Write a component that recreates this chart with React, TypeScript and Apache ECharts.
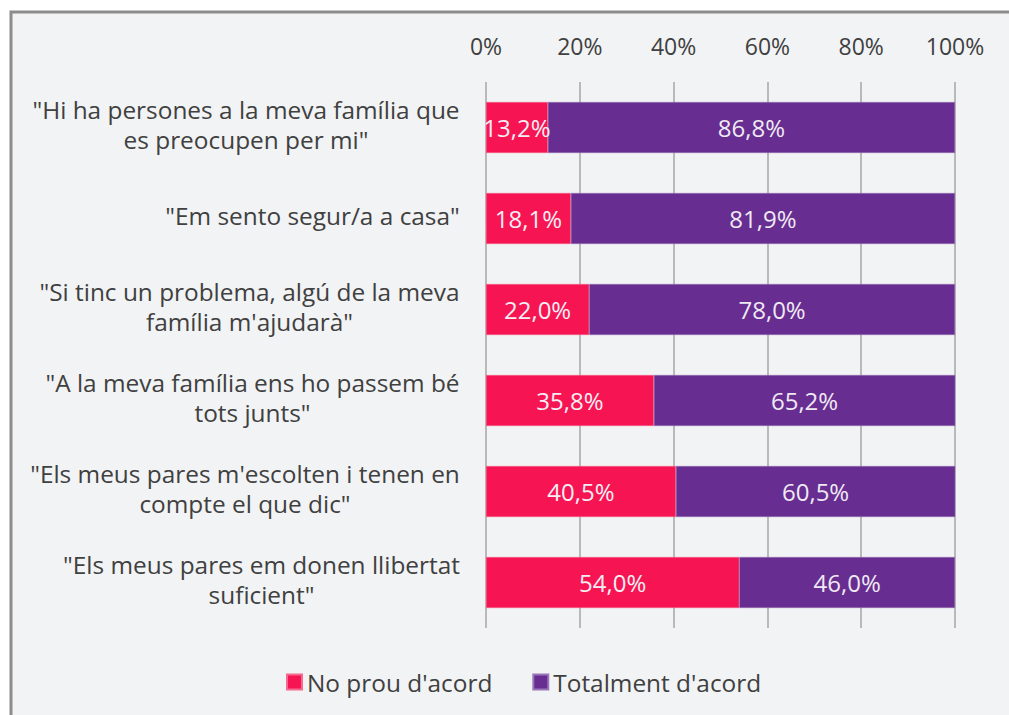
import React, { useEffect, useRef } from "react";
import * as echarts from "echarts";

const categories: string[][] = [
  ['"Hi ha persones a la meva família que', 'es preocupen per mi"'],
  ['"Em sento segur/a a casa"'],
  ['"Si tinc un problema, algú de la meva', "família m'ajudarà\""],
  ['"A la meva família ens ho passem bé', 'tots junts"'],
  ["\"Els meus pares m'escolten i tenen en", 'compte el que dic"'],
  ['"Els meus pares em donen llibertat', 'suficient"'],
];
const noProu: number[] = [13.2, 18.1, 22.0, 35.8, 40.5, 54.0];
const totalment: number[] = [86.8, 81.9, 78.0, 65.2, 60.5, 46.0];
const seriesNames = ["No prou d'acord", "Totalment d'acord"];
const xTicks = [0, 20, 40, 60, 80, 100];

const FONT = "'Open Sans', Lato, sans-serif";
const LABEL_SIZE = 24.4;

function measure(text: string, size: number): number {
  const c = document.createElement("canvas").getContext("2d");
  if (!c) return text.length * size * 0.5;
  c.font = `${size}px 'Open Sans', Lato, sans-serif`;
  return Math.ceil(c.measureText(text).width);
}

export default function App() {
  const ref = useRef<HTMLDivElement>(null);
  useEffect(() => {
    if (!ref.current) return;
    const chart = echarts.init(ref.current, undefined, { renderer: "svg" });
    const rich: Record<string, any> = {};
    categories.forEach((lines, i) => {
      const w = Math.max(...lines.map((l) => measure(l, LABEL_SIZE)));
      rich["r" + i] = {
        width: w,
        align: "center",
        fontSize: LABEL_SIZE,
        fontFamily: FONT,
        color: "#404040",
        lineHeight: 30,
      };
    });
    const fmt = (v: number) => v.toFixed(1).replace(".", ",") + "%";
    chart.setOption({
      animation: false,
      backgroundColor: "#ffffff",
      graphic: [
        {
          type: "rect",
          shape: { x: 11, y: 12, width: 1100, height: 800 },
          style: { fill: "#f2f3f5", stroke: "#8c8c8c", lineWidth: 3 },
          z: -10,
          silent: true,
        },
      ],
      grid: { left: 486, right: 54, top: 82, bottom: 87 },
      legend: {
        data: seriesNames,
        left: 281,
        top: 665,
        itemWidth: 15,
        itemHeight: 15,
        itemGap: 40,
        icon: "rect",
        textStyle: { fontSize: 24.4, fontFamily: FONT, color: "#404040" },
      },
      xAxis: {
        type: "value",
        position: "top",
        min: 0,
        max: 100,
        interval: 20,
        axisLine: { show: false },
        axisTick: { show: false },
        splitLine: { show: true, lineStyle: { color: "#a6a6a6", width: 1.5 } },
        axisLabel: {
          formatter: (v: number) => (xTicks.includes(v) ? v + "%" : ""),
          fontSize: 23,
          fontFamily: FONT,
          color: "#404040",
          margin: 25,
        },
      },
      yAxis: {
        type: "category",
        inverse: true,
        data: categories.map((c) => c.join("\n")),
        axisLine: { show: false },
        axisTick: { show: false },
        axisLabel: {
          align: "right",
          margin: 26,
          padding: [0, 0, 6, 0],
          formatter: (_: string, i: number) =>
            categories[i].map((l) => `{r${i}|${l}}`).join("\n"),
          rich,
        },
      },
      series: [
        {
          name: seriesNames[0],
          type: "bar",
          stack: "t",
          data: noProu,
          barCategoryGap: "44%",
          itemStyle: { color: "#f71453", borderColor: "#f56b8f", borderWidth: 0.5 },
          label: {
            show: true,
            position: "inside",
            formatter: (p: any) => fmt(p.value),
            color: "#f4eef4",
            fontSize: 24,
            fontFamily: FONT,
          },
        },
        {
          name: seriesNames[1],
          type: "bar",
          stack: "t",
          data: totalment,
          itemStyle: { color: "#672d91", borderColor: "#9a76b8", borderWidth: 0.5 },
          label: {
            show: true,
            position: "inside",
            formatter: (p: any) => fmt(p.value),
            color: "#efe9f3",
            fontSize: 24,
            fontFamily: FONT,
          },
        },
      ],
    });
    return () => chart.dispose();
  }, []);
  return (
    <div
      ref={ref}
      style={{ position: "fixed", left: 0, top: 0, width: 1009, height: 715 }}
    />
  );
}
